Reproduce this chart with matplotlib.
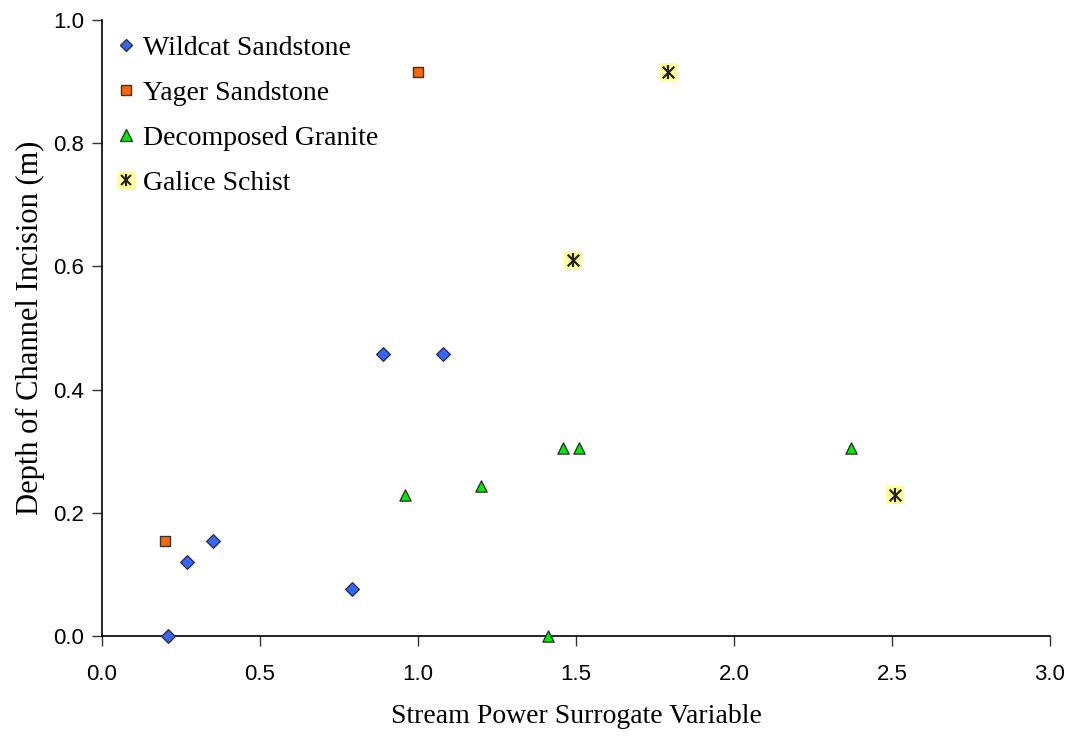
import matplotlib
matplotlib.use("Agg")
import matplotlib.pyplot as plt
from matplotlib.lines import Line2D

plt.rcParams['font.family'] = ['Liberation Sans', 'DejaVu Sans']

wild_x = [0.21, 0.27, 0.35, 0.79, 0.89, 1.08]
wild_y = [0.0, 0.12, 0.154, 0.076, 0.457, 0.457]
yager_x = [0.20, 1.00]
yager_y = [0.154, 0.915]
gran_x = [0.96, 1.20, 1.41, 1.46, 1.51, 2.37]
gran_y = [0.229, 0.244, 0.0, 0.305, 0.305, 0.305]
schist_x = [1.79, 1.49, 2.51]
schist_y = [0.915, 0.61, 0.229]
labels = ['Wildcat Sandstone', 'Yager Sandstone', 'Decomposed Granite', 'Galice Schist']
xticks = [0.0, 0.5, 1.0, 1.5, 2.0, 2.5, 3.0]
yticks = [0.0, 0.2, 0.4, 0.6, 0.8, 1.0]

fig = plt.figure(figsize=(10.76, 7.41), dpi=100)
ax = fig.add_axes([102/1076, 1-636/741, (1050-102)/1076, (636-20)/741])

ax.scatter(wild_x, wild_y, marker='D', s=48, c='#3366ff', edgecolors='#333333', linewidths=1.0, zorder=3, clip_on=False)
ax.scatter(yager_x, yager_y, marker='s', s=52, c='#ff6600', edgecolors='#333333', linewidths=1.0, zorder=3, clip_on=False)
ax.scatter(gran_x, gran_y, marker='^', s=65, c='#00ee00', edgecolors='#333333', linewidths=1.0, zorder=3, clip_on=False)
ax.scatter(schist_x, schist_y, marker='s', s=165, c='#ffff99', edgecolors='none', zorder=3)
ax.scatter(schist_x, schist_y, marker='x', s=70, c='#222222', linewidths=1.6, zorder=4)
ax.scatter(schist_x, schist_y, marker='|', s=90, c='#222222', linewidths=1.6, zorder=4)

handles = [
    Line2D([], [], marker='D', ls='none', ms=6.5, mfc='#3366ff', mec='#333333', mew=1.0),
    Line2D([], [], marker='s', ls='none', ms=6.8, mfc='#ff6600', mec='#333333', mew=1.0),
    Line2D([], [], marker='^', ls='none', ms=8, mfc='#00ee00', mec='#333333', mew=1.0),
    (Line2D([], [], marker='s', ls='none', ms=12.5, mfc='#ffff99', mec='none'),
     Line2D([], [], marker='x', ls='none', ms=7.5, mec='#222222', mew=1.5),
     Line2D([], [], marker='|', ls='none', ms=9, mec='#222222', mew=1.5)),
]
ax.legend(handles, labels, loc='upper left', frameon=False,
          prop={'family': 'Liberation Serif', 'size': 20},
          handlelength=0.8, handletextpad=0.2, labelspacing=0.71,
          borderaxespad=0.15, bbox_to_anchor=(-2/948, 1.0))

ax.set_xlim(0, 3.0)
ax.set_ylim(0, 1.0)
ax.set_xticks(xticks)
ax.set_xticklabels([f'{v:.1f}' for v in xticks])
ax.set_yticks(yticks)
ax.set_yticklabels([f'{v:.1f}' for v in yticks])
ax.tick_params(direction='out', length=7, width=1, color='#333333', labelsize=16)
ax.tick_params(axis='x', pad=13)
ax.tick_params(axis='y', pad=6)
ax.spines['top'].set_visible(False)
ax.spines['right'].set_visible(False)
ax.spines['left'].set_linewidth(1.2)
ax.spines['bottom'].set_linewidth(1.2)

ax.set_xlabel('Stream Power Surrogate Variable', family='Liberation Serif', fontsize=20)
ax.set_ylabel('Depth of Channel Incision (m)', family='Liberation Serif', fontsize=22)
ax.xaxis.set_label_coords(0.5, (636 - 704) / 616)
ax.yaxis.set_label_coords((45 - 102) / 948, 0.5)

fig.savefig('out.png', dpi=100)
